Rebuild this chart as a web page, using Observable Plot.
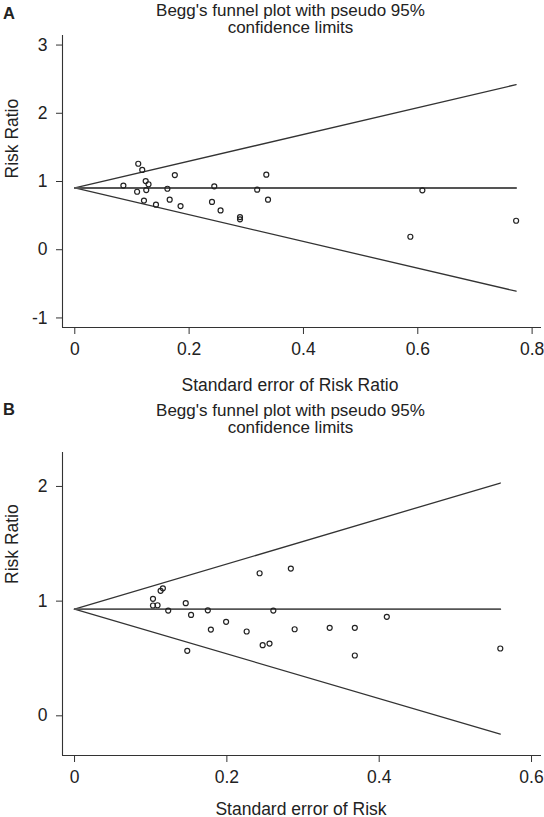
<!DOCTYPE html>
<html>
<head>
<meta charset="utf-8">
<script src="https://cdn.jsdelivr.net/npm/d3@7"></script>
<script src="https://cdn.jsdelivr.net/npm/@observablehq/plot@0.6"></script>
<style>
  body { margin: 0; background: #fff; }
  #wrap { position: relative; width: 544px; height: 817px; font-family: "Liberation Sans", Arial, Helvetica, sans-serif; color: #222; overflow: hidden; }
  .letter { position: absolute; left: 3px; font-weight: bold; font-size: 16.5px; line-height: 16.5px; }
  .title { position: absolute; left: 0; width: 581px; text-align: center; font-size: 17px; line-height: 17.2px; }
  .panel { position: absolute; left: 0; }
</style>
</head>
<body>
<div id="wrap">
  <div class="panel" id="panelA" style="top:0px"></div>
  <div class="panel" id="panelB" style="top:400px"></div>
  <div class="letter" style="top:5px">A</div>
  <div class="title" style="top:2px">Begg's funnel plot with pseudo 95%<br>confidence limits</div>
  <div class="letter" style="top:401px">B</div>
  <div class="title" style="top:402px">Begg's funnel plot with pseudo 95%<br>confidence limits</div>
</div>
<script>
// ---------- Panel A data ----------
const seA = [0.111, 0.118, 0.085, 0.124, 0.129, 0.125, 0.109, 0.121, 0.142, 0.162, 0.175, 0.166,
             0.185, 0.244, 0.240, 0.255, 0.289, 0.289, 0.319, 0.335, 0.338, 0.608, 0.587, 0.772];
const rrA = [1.26, 1.17, 0.94, 1.006, 0.96, 0.874, 0.85, 0.72, 0.66, 0.894, 1.094, 0.733,
             0.64, 0.93, 0.70, 0.576, 0.478, 0.445, 0.88, 1.10, 0.733, 0.87, 0.19, 0.425];
const funnelSeA = [0, 0.772];
const upperA = [0.905, 2.42];
const lowerA = [0.905, -0.608];
const centerA = 0.905;
const xTicksA = [0, 0.2, 0.4, 0.6, 0.8];
const yTicksA = [-1, 0, 1, 2, 3];
const xDomainA = [-0.0215, 0.8164];
const yDomainA = [-1.14, 3.14];

// ---------- Panel B data ----------
const seB = [0.243, 0.284, 0.116, 0.113, 0.103, 0.103, 0.109, 0.123, 0.146, 0.153, 0.175, 0.199,
             0.179, 0.226, 0.148, 0.247, 0.256, 0.261, 0.289, 0.335, 0.368, 0.410, 0.368, 0.559];
const rrB = [1.243, 1.284, 1.112, 1.09, 1.02, 0.962, 0.964, 0.918, 0.982, 0.88, 0.92, 0.82,
             0.752, 0.735, 0.567, 0.616, 0.63, 0.918, 0.755, 0.767, 0.767, 0.863, 0.526, 0.587];
const funnelSeB = [0, 0.559];
const upperB = [0.93, 2.03];
const lowerB = [0.93, -0.16];
const centerB = 0.93;
const xTicksB = [0, 0.2, 0.4, 0.6];
const yTicksB = [0, 1, 2];
const xDomainB = [-0.0158, 0.6131];
const yDomainB = [-0.346, 2.296];

const FONT = '"Liberation Sans", Arial, Helvetica, sans-serif';
const INK = "#333";

function panel(o) {
  const pts = o.se.map((s, i) => ({se: s, rr: o.rr[i]}));
  const up = o.fSe.map((s, i) => ({se: s, v: o.fUp[i]}));
  const lo = o.fSe.map((s, i) => ({se: s, v: o.fLo[i]}));
  const mid = o.fSe.map(s => ({se: s, v: o.center}));
  return Plot.plot({
    width: 544,
    height: o.height,
    marginLeft: 62,
    marginRight: 3,
    marginTop: o.marginTop,
    marginBottom: o.marginBottom,
    style: {fontFamily: FONT, fontSize: "17.5px", color: "#222", background: "transparent", overflow: "visible"},
    x: {domain: o.xDomain},
    y: {domain: o.yDomain},
    marks: [
      Plot.ruleX([o.xDomain[0]], {stroke: INK, strokeWidth: 1.1}),
      Plot.ruleY([o.yDomain[0]], {stroke: INK, strokeWidth: 1.1}),
      Plot.axisX({ticks: o.xTicks, tickFormat: d => String(d), tickSize: 7, tickPadding: 8, label: null, stroke: INK, fill: "#222"}),
      Plot.axisY({ticks: o.yTicks, tickFormat: d => String(d), tickSize: 6, tickPadding: 9, label: null, stroke: INK, fill: "#222"}),
      Plot.line(up, {x: "se", y: "v", stroke: INK, strokeWidth: 1.3}),
      Plot.line(lo, {x: "se", y: "v", stroke: INK, strokeWidth: 1.3}),
      Plot.line(mid, {x: "se", y: "v", stroke: "#555", strokeWidth: 1.8}),
      Plot.dot(pts, {x: "se", y: "rr", r: 2.5, stroke: "#222", strokeWidth: 1.2, fill: "none"}),
      Plot.text([o.xTitle], {frameAnchor: "bottom", dx: o.xTitleDx, dy: o.xTitleDy, lineAnchor: "middle", fill: "#222", fontSize: 17.5}),
      Plot.text([o.yTitle], {frameAnchor: "left", rotate: -90, dx: -50.5, dy: o.yTitleDy, lineAnchor: "middle", fill: "#222", fontSize: 17.5})
    ]
  });
}

document.getElementById("panelA").appendChild(panel({
  se: seA, rr: rrA, fSe: funnelSeA, fUp: upperA, fLo: lowerA, center: centerA,
  xDomain: xDomainA, yDomain: yDomainA, xTicks: xTicksA, yTicks: yTicksA,
  height: 400, marginTop: 35, marginBottom: 73,
  xTitle: "Standard error of Risk Ratio", xTitleDx: -12, xTitleDy: 57.4,
  yTitle: "Risk Ratio", yTitleDy: -3
}));

document.getElementById("panelB").appendChild(panel({
  se: seB, rr: rrB, fSe: funnelSeB, fUp: upperB, fLo: lowerB, center: centerB,
  xDomain: xDomainB, yDomain: yDomainB, xTicks: xTicksB, yTicks: yTicksB,
  height: 417, marginTop: 52, marginBottom: 62,
  xTitle: "Standard error of Risk", xTitleDx: -1, xTitleDy: 53.4,
  yTitle: "Risk Ratio", yTitleDy: -20
}));
</script>
</body>
</html>
